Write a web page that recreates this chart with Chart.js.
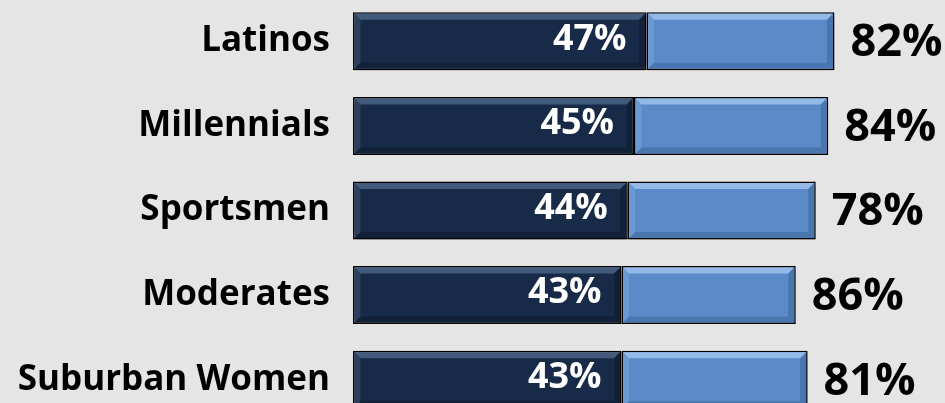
<!DOCTYPE html>
<html lang="en">
<head>
    <meta charset="UTF-8">
    <title>Group Bars</title>
    <script src="https://cdn.jsdelivr.net/npm/chart.js"></script>
    <style>
        html, body { margin: 0; padding: 0; background: #e5e5e6; overflow: hidden; }
        #wrap { position: absolute; left: 0; top: -1px; width: 945px; height: 423px; }
    </style>
</head>
<body>
    <div id="wrap"><canvas id="groupChart"></canvas></div>

    <script>
        // Chart data
        const groups = ['Latinos', 'Millennials', 'Sportsmen', 'Moderates', 'Suburban Women'];
        const coreShare = [47, 45, 44, 43, 43];
        const extraShare = [30.1, 31.1, 30.1, 27.9, 29.8];
        const coreLabels = ['47%', '45%', '44%', '43%', '43%'];
        const reachLabels = ['82%', '84%', '78%', '86%', '81%'];

        const darkFill = '#172a47';
        const lightFill = '#5a8bc8';
        const labelFont = '"Open Sans"';

        // soft shadow under each bar
        const shadowPlugin = {
            id: 'barShadow',
            beforeDatasetDraw(chart) {
                const ctx = chart.ctx;
                ctx.save();
                ctx.shadowColor = 'rgba(0,0,0,0.3)';
                ctx.shadowBlur = 6;
                ctx.shadowOffsetX = 2;
                ctx.shadowOffsetY = 4;
            },
            afterDatasetDraw(chart) {
                chart.ctx.restore();
            }
        };

        // bevel edges + text labels
        const bevelPlugin = {
            id: 'bevelLabels',
            afterDatasetsDraw(chart) {
                const ctx = chart.ctx;
                const bevel = [
                    { top: 'rgba(120,150,190,0.45)', side: 'rgba(90,115,150,0.3)', bottom: 'rgba(0,0,0,0.2)', right: 'rgba(0,0,0,0.2)' },
                    { top: 'rgba(170,205,245,0.7)', side: 'rgba(140,180,225,0.35)', bottom: 'rgba(40,70,120,0.3)', right: 'rgba(40,70,120,0.3)' }
                ];
                chart.data.datasets.forEach((ds, di) => {
                    chart.getDatasetMeta(di).data.forEach(bar => {
                        const p = bar.getProps(['x', 'y', 'base', 'height'], true);
                        const l = Math.min(p.x, p.base) + 1.5, r = Math.max(p.x, p.base) - 1.5;
                        const t = p.y - p.height / 2 + 1.5, b = p.y + p.height / 2 - 1.5;
                        const w = 6;
                        const c = bevel[di];
                        ctx.save();
                        ctx.fillStyle = c.top;
                        ctx.beginPath();
                        ctx.moveTo(l, t); ctx.lineTo(r, t); ctx.lineTo(r - w, t + w); ctx.lineTo(l + w, t + w);
                        ctx.closePath(); ctx.fill();
                        ctx.fillStyle = c.side;
                        ctx.beginPath();
                        ctx.moveTo(l, t); ctx.lineTo(l + w, t + w); ctx.lineTo(l + w, b - w); ctx.lineTo(l, b);
                        ctx.closePath(); ctx.fill();
                        ctx.fillStyle = c.bottom;
                        ctx.beginPath();
                        ctx.moveTo(l, b); ctx.lineTo(l + w, b - w); ctx.lineTo(r - w, b - w); ctx.lineTo(r, b);
                        ctx.closePath(); ctx.fill();
                        ctx.fillStyle = c.right;
                        ctx.beginPath();
                        ctx.moveTo(r, t); ctx.lineTo(r - w, t + w); ctx.lineTo(r - w, b - w); ctx.lineTo(r, b);
                        ctx.closePath(); ctx.fill();
                        ctx.restore();
                    });
                });

                const darkBars = chart.getDatasetMeta(0).data;
                const lightBars = chart.getDatasetMeta(1).data;
                ctx.save();
                ctx.textBaseline = 'middle';
                darkBars.forEach((bar, i) => {
                    // category name left of the bar
                    ctx.font = 'bold 35px ' + labelFont;
                    ctx.fillStyle = '#000000';
                    ctx.textAlign = 'right';
                    ctx.fillText(groups[i], bar.base - 23, bar.y);
                    ctx.font = 'bold 36px ' + labelFont;
                    ctx.fillStyle = '#ffffff';
                    ctx.fillText(coreLabels[i], bar.x - 20, bar.y - 2);
                });
                lightBars.forEach((bar, i) => {
                    ctx.font = 'bold 45px ' + labelFont;
                    ctx.fillStyle = '#000000';
                    ctx.textAlign = 'left';
                    ctx.fillText(reachLabels[i], bar.x + 16, bar.y + 2);
                });
                ctx.restore();
            }
        };

        const ctx = document.getElementById('groupChart').getContext('2d');
        new Chart(ctx, {
            type: 'bar',
            data: {
                labels: groups,
                datasets: [
                    {
                        data: coreShare,
                        backgroundColor: darkFill,
                        borderColor: '#000000',
                        borderWidth: 1.5,
                        borderSkipped: false
                    },
                    {
                        data: extraShare,
                        backgroundColor: lightFill,
                        borderColor: '#000000',
                        borderWidth: 1.5,
                        borderSkipped: false
                    }
                ]
            },
            options: {
                indexAxis: 'y',
                responsive: true,
                maintainAspectRatio: false,
                animation: false,
                layout: { padding: { left: 353, right: 0, top: 0, bottom: 0 } },
                categoryPercentage: 1,
                barPercentage: 0.685,
                plugins: {
                    legend: { display: false },
                    tooltip: { enabled: false }
                },
                scales: {
                    x: { stacked: true, display: false, min: 0, max: 94.8 },
                    y: { stacked: true, display: false }
                }
            },
            plugins: [shadowPlugin, bevelPlugin]
        });
    </script>
</body>
</html>
